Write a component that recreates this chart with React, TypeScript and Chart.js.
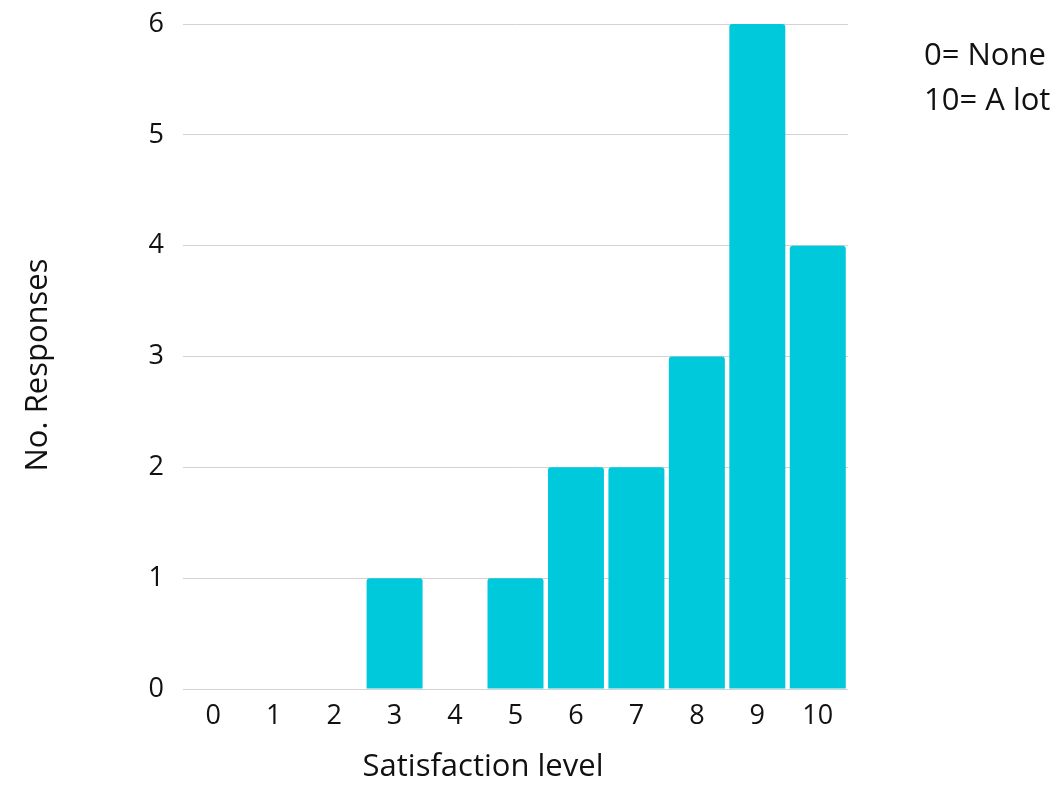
import React, { useEffect, useRef } from "react";
import { Chart, registerables } from "chart.js";

Chart.register(...registerables);

const categories = ["0", "1", "2", "3", "4", "5", "6", "7", "8", "9", "10"];
const responses = [0, 0, 0, 1, 0, 1, 2, 2, 3, 6, 4];
const noteLines = ["0= None", "10= A lot"];
const xTitle = "Satisfaction level";
const yTitle = "No. Responses";

const FONT = "'Open Sans', 'Noto Sans', sans-serif";

const textPlugin = {
  id: "extraText",
  afterDraw(chart: any) {
    const ctx = chart.ctx;
    ctx.save();
    ctx.font = `31px ${FONT}`;
    ctx.fillStyle = "#111";
    ctx.textAlign = "left";
    ctx.textBaseline = "middle";
    ctx.fillText(noteLines[0], 924, 56);
    ctx.fillText(noteLines[1], 924, 101);
    ctx.textAlign = "center";
    ctx.fillText(xTitle, 483, 767);
    ctx.translate(38, 365);
    ctx.rotate(-Math.PI / 2);
    ctx.fillText(yTitle, 0, 0);
    ctx.restore();
  },
};

export default function App() {
  const ref = useRef<HTMLCanvasElement | null>(null);
  useEffect(() => {
    document.body.style.margin = "0";
    const chart = new Chart(ref.current!, {
      type: "bar",
      data: {
        labels: categories,
        datasets: [
          {
            data: responses,
            backgroundColor: "#00C9DB",
            borderRadius: { topLeft: 3, topRight: 3, bottomLeft: 0, bottomRight: 0 },
            borderSkipped: "bottom",
            barPercentage: 0.926,
            categoryPercentage: 1,
          },
        ],
      },
      options: {
        animation: false,
        responsive: false,
        maintainAspectRatio: false,
        layout: { padding: { left: 0, right: 209, top: 24, bottom: 0 } },
        plugins: { legend: { display: false }, tooltip: { enabled: false } },
        scales: {
          x: {
            grid: { display: false, drawTicks: false },
            border: { display: false },
            ticks: { color: "#111", font: { family: FONT, size: 27 }, padding: 11, maxRotation: 0 },
            afterFit(scale: any) {
              scale.height = 96;
              scale.paddingLeft = 0;
              scale.paddingRight = 0;
            },
          },
          y: {
            min: 0,
            max: 6,
            grid: { color: "#d3d3d3", lineWidth: 1, drawTicks: false },
            border: { display: false },
            ticks: { stepSize: 1, color: "#111", font: { family: FONT, size: 27 }, padding: 19 },
            afterFit(scale: any) {
              scale.width = 183;
              scale.paddingTop = 0;
              scale.paddingBottom = 0;
            },
          },
        },
      },
      plugins: [textPlugin],
    });
    return () => chart.destroy();
  }, []);
  return (
    <div style={{ position: "absolute", left: 0, top: 0, width: 1057, height: 785 }}>
      <canvas ref={ref} width={1057} height={785} style={{ width: 1057, height: 785 }} />
    </div>
  );
}
